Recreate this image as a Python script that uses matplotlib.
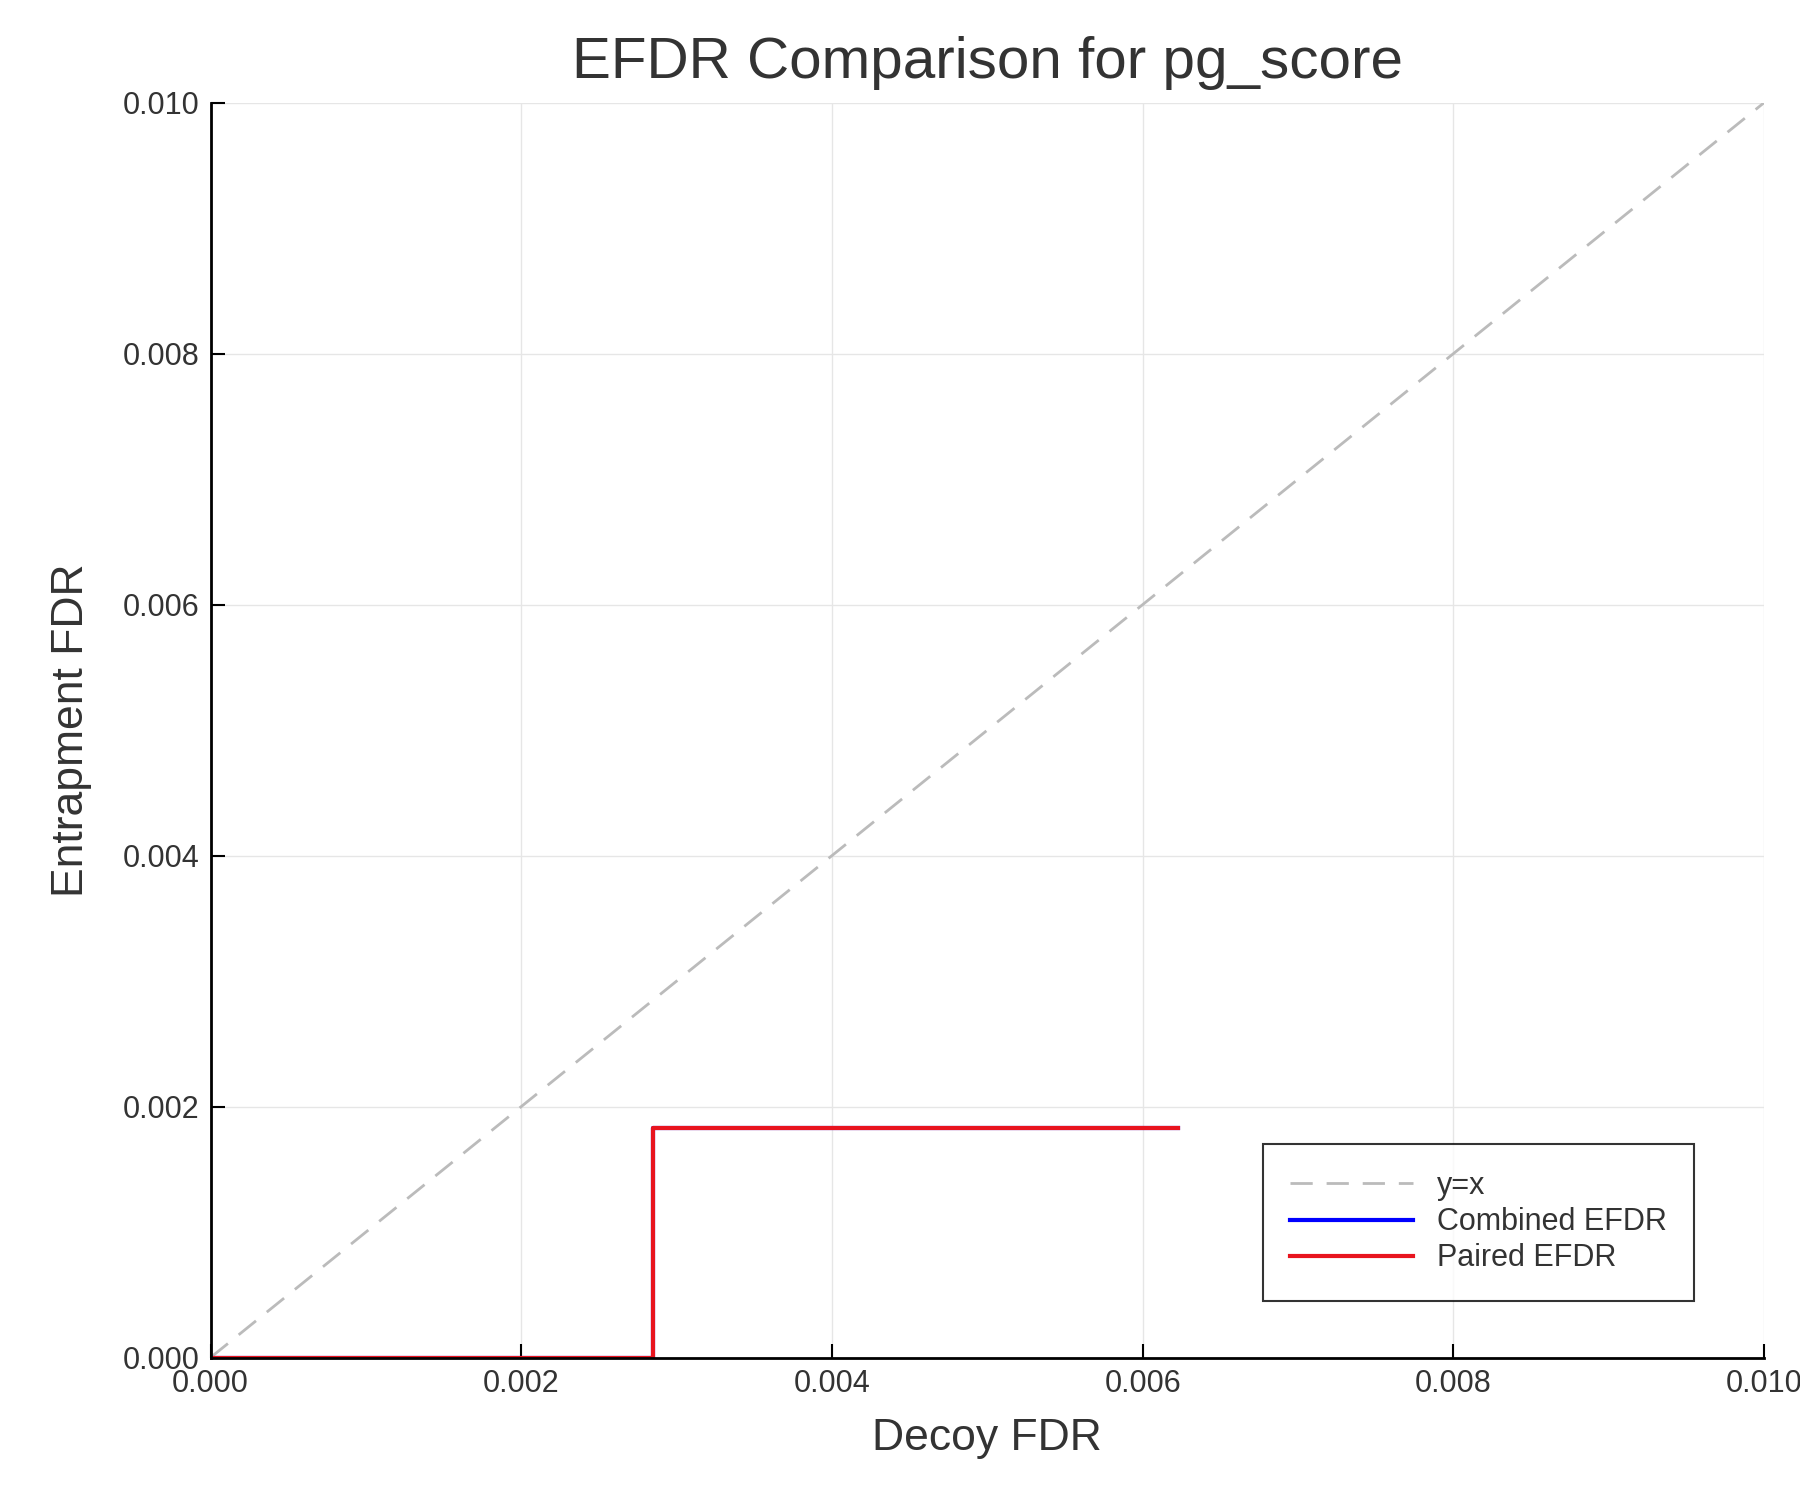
import matplotlib
matplotlib.use("Agg")
import matplotlib.pyplot as plt

diag_x = [0.0, 0.010]
diag_y = [0.0, 0.010]
efdr_x = [0.0, 0.00285, 0.00285, 0.00623]
combined_y = [0.0, 0.0, 0.00183, 0.00183]
paired_y = [0.0, 0.0, 0.00183, 0.00183]
ticks = [0.0, 0.002, 0.004, 0.006, 0.008, 0.010]
tick_labels = ["0.000", "0.002", "0.004", "0.006", "0.008", "0.010"]

plt.rcParams['font.family'] = ['Liberation Sans', 'DejaVu Sans']
fig = plt.figure(figsize=(18, 15), dpi=100)
ax = fig.add_axes([0.117, 0.095, 0.863, 0.8365])
ax.plot(diag_x, diag_y, '--', color='#bbbbbb', lw=2, dashes=(8, 5), label='y=x')
ax.plot(efdr_x, combined_y, color='blue', lw=3, label='Combined EFDR')
ax.plot(efdr_x, paired_y, color='#e8141e', lw=3, label='Paired EFDR')
ax.set_xlim(0, 0.010)
ax.set_ylim(0, 0.010)
ax.set_xticks(ticks, tick_labels)
ax.set_yticks(ticks, tick_labels)
ax.tick_params(direction='in', length=10, width=1.5, labelsize=22, labelcolor='#333333', pad=8)
ax.grid(True, color='#e6e6e6', lw=1)
for s in ['top', 'right']:
    ax.spines[s].set_visible(False)
for s in ['left', 'bottom']:
    ax.spines[s].set_linewidth(2)
ax.set_xlabel('Decoy FDR', fontsize=32, color='#333333', labelpad=14)
ax.set_ylabel('Entrapment FDR', fontsize=32, color='#333333', labelpad=22)
ax.set_title('EFDR Comparison for pg_score', fontsize=42, color='#333333', pad=18)
leg = ax.legend(loc='lower right', bbox_to_anchor=(0.965, 0.033), fontsize=22,
                frameon=True, fancybox=False, edgecolor='black', handlelength=4,
                borderpad=0.9, labelspacing=0.2)
leg.get_frame().set_linewidth(1.5)
for t in leg.get_texts():
    t.set_color('#333333')
fig.savefig('out.png', dpi=100)
